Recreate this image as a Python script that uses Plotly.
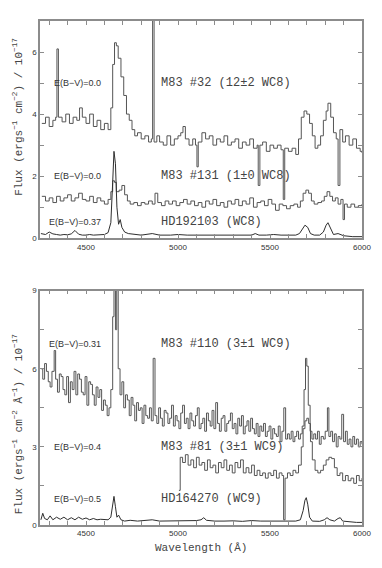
import plotly.graph_objects as go
from plotly.subplots import make_subplots

#--------------------- Data (flux in 1e-17 units, wavelength in Angstrom)
# top panel: WC8 stars
wl_32 = [4260, 4280, 4300, 4320, 4335, 4342, 4350, 4370, 4390, 4410, 4430, 4450, 4465, 4480, 4500,
         4520, 4540, 4560, 4580, 4600, 4620, 4635, 4645, 4655, 4665, 4675, 4690, 4705, 4720, 4735,
         4750, 4765, 4780, 4800, 4820, 4840, 4855, 4862, 4870, 4885, 4900, 4920, 4940, 4960, 4980,
         5000, 5015, 5027, 5040, 5060, 5080, 5095, 5103, 5110, 5130, 5150, 5170, 5190, 5210, 5230,
         5250, 5270, 5290, 5310, 5330, 5350, 5370, 5390, 5410, 5430, 5436, 5445, 5460, 5480, 5500,
         5520, 5540, 5560, 5572, 5580, 5600, 5620, 5640, 5655, 5670, 5685, 5700, 5715, 5730, 5745,
         5760, 5775, 5790, 5805, 5815, 5830, 5845, 5860, 5870, 5880, 5895, 5910, 5930, 5950, 5970,
         5990, 6000]
f_32 = [3.7, 3.9, 3.6, 3.8, 3.9, 6.1, 3.9, 3.75, 4.0, 3.7, 3.9, 3.8, 4.2, 3.9, 3.7,
        4.0, 3.6, 3.8, 3.5, 3.7, 3.5, 4.2, 5.6, 6.3, 6.2, 5.8, 5.2, 4.6, 4.0, 3.8,
        3.5, 3.3, 3.4, 3.2, 3.3, 3.1, 3.2, 9.5, 3.1, 3.3, 3.1, 3.0, 3.3, 3.0, 3.2,
        3.3, 3.4, 3.6, 3.2, 3.0, 3.2, 3.0, 2.3, 3.1, 3.4, 3.2, 3.3, 3.0, 3.2, 3.1,
        3.3, 3.0, 3.1, 3.2, 2.9, 3.1, 3.0, 3.2, 2.9, 3.0, 1.7, 3.0, 3.1, 2.8, 3.0,
        2.9, 3.0, 2.85, 1.25, 2.9, 2.8, 2.9, 2.7, 3.2, 3.9, 4.1, 4.0, 3.7, 3.3, 2.9,
        3.0, 3.3, 3.8, 4.1, 4.35, 3.9, 3.4, 3.2, 1.7, 3.5, 3.1, 3.3, 3.0, 3.2, 2.9,
        2.8, 2.75]

wl_131 = [4260, 4280, 4300, 4320, 4340, 4360, 4380, 4400, 4420, 4440, 4460, 4480, 4500, 4520, 4540,
          4560, 4580, 4600, 4620, 4635, 4645, 4655, 4665, 4680, 4695, 4710, 4725, 4740, 4760, 4780,
          4800, 4820, 4840, 4860, 4875, 4890, 4910, 4930, 4950, 4970, 4990, 5010, 5030, 5050, 5070,
          5090, 5110, 5130, 5150, 5170, 5190, 5210, 5230, 5250, 5270, 5290, 5310, 5330, 5350, 5370,
          5390, 5410, 5430, 5450, 5470, 5490, 5510, 5530, 5550, 5570, 5590, 5610, 5630, 5650, 5665,
          5680, 5695, 5710, 5725, 5740, 5760, 5780, 5795, 5810, 5825, 5840, 5855, 5870, 5885, 5897,
          5905, 5920, 5940, 5960, 5980, 6000]
f_131 = [1.35, 1.2, 1.3, 1.15, 1.35, 1.2, 1.3, 1.4, 1.2, 1.3, 1.45, 1.25, 1.2, 1.35, 1.15,
         1.3, 1.2, 1.1, 1.25, 1.5, 1.85, 1.8, 1.5, 1.55, 1.7, 1.4, 1.2, 1.1, 1.15, 1.05,
         1.15, 1.1, 1.2, 1.1, 1.45, 1.15, 1.05, 1.2, 1.1, 1.2, 1.05, 1.15, 1.25, 1.1, 1.2,
         1.05, 1.15, 1.0, 1.2, 1.1, 1.25, 1.05, 1.15, 1.0, 1.2, 1.1, 1.25, 1.05, 1.2, 1.1,
         1.3, 1.0, 1.15, 1.2, 1.05, 1.25, 1.1, 0.9, 1.1, 1.05, 0.95, 1.05, 1.1, 1.0, 1.2,
         1.45, 1.55, 1.45, 1.2, 1.1, 1.15, 1.2, 1.35, 1.5, 1.35, 1.2, 1.3, 1.1, 1.25, 0.6,
         1.1, 1.0, 1.1, 1.0, 1.05, 1.1]

wl_hd192 = [4255, 4280, 4300, 4320, 4340, 4360, 4380, 4400, 4420, 4440, 4460, 4480, 4500, 4520, 4540,
            4560, 4580, 4600, 4620, 4635, 4645, 4652, 4660, 4668, 4677, 4686, 4695, 4710, 4730, 4760,
            4800, 4860, 4900, 4960, 5000, 5050, 5100, 5150, 5200, 5250, 5300, 5350, 5400, 5420, 5440,
            5480, 5520, 5560, 5600, 5640, 5660, 5675, 5690, 5705, 5720, 5740, 5770, 5790, 5805, 5815,
            5830, 5845, 5870, 5885, 5900, 5950, 6000]
f_hd192 = [0.15, 0.12, 0.2, 0.14, 0.12, 0.1, 0.12, 0.11, 0.14, 0.25, 0.13, 0.1, 0.1, 0.12, 0.1,
           0.1, 0.11, 0.12, 0.18, 0.5, 1.8, 2.8, 2.4, 1.0, 0.45, 0.6, 0.35, 0.2, 0.15, 0.12,
           0.1, 0.15, 0.1, 0.1, 0.12, 0.1, 0.1, 0.1, 0.12, 0.1, 0.1, 0.12, 0.1, 0.15, 0.1,
           0.1, 0.12, 0.1, 0.1, 0.1, 0.15, 0.3, 0.42, 0.35, 0.15, 0.1, 0.1, 0.2, 0.42, 0.5,
           0.3, 0.12, 0.15, 0.12, 0.08, 0.05, 0.05]

# bottom panel: WC9 stars
wl_110 = [4255, 4265, 4275, 4285, 4295, 4305, 4315, 4327, 4335, 4345, 4355, 4365, 4375, 4385, 4395,
          4405, 4415, 4425, 4435, 4445, 4455, 4465, 4475, 4485, 4495, 4505, 4515, 4525, 4535, 4545,
          4555, 4565, 4575, 4585, 4595, 4605, 4615, 4625, 4635, 4645, 4652, 4660, 4667, 4675, 4685,
          4695, 4705, 4715, 4725, 4735, 4745, 4755, 4765, 4775, 4785, 4795, 4805, 4815, 4825, 4835,
          4845, 4855, 4865, 4875, 4885, 4895, 4905, 4915, 4925, 4935, 4945, 4955, 4965, 4975, 4985,
          4995, 5005, 5015, 5025, 5035, 5045, 5055, 5065, 5075, 5085, 5095, 5105, 5115, 5125, 5135,
          5145, 5155, 5165, 5175, 5185, 5195, 5205, 5215, 5225, 5235, 5245, 5255, 5265, 5275, 5285,
          5295, 5305, 5315, 5325, 5335, 5345, 5355, 5365, 5375, 5385, 5395, 5405, 5415, 5425, 5435,
          5445, 5455, 5465, 5475, 5485, 5495, 5505, 5515, 5525, 5535, 5545, 5555, 5565, 5575, 5585,
          5595, 5605, 5615, 5625, 5635, 5645, 5655, 5665, 5675, 5685, 5693, 5700, 5708, 5718, 5728,
          5738, 5748, 5758, 5768, 5778, 5790, 5800, 5812, 5820, 5830, 5840, 5850, 5860, 5870, 5880,
          5890, 5900, 5910, 5920, 5930, 5940, 5950, 5960, 5970, 5980, 5990, 6000]
f_110 = [6.0, 5.6, 6.2, 5.9, 5.5, 5.3, 5.9, 6.7, 5.6, 5.1, 5.8, 5.7, 5.2, 5.0, 5.7,
         4.7, 5.5, 5.2, 5.9, 5.0, 5.8, 5.6, 5.1, 5.0, 5.7, 4.6, 5.5, 5.4, 5.0, 4.6,
         5.3, 4.9, 5.2, 4.4, 4.8, 4.6, 4.2, 4.5, 5.2, 8.0, 9.5, 7.5, 9.5, 6.0, 5.0,
         5.5, 4.5, 5.0, 4.8, 4.2, 4.9, 4.6, 4.0, 4.7, 4.4, 4.5, 3.9, 4.6, 4.2, 4.1,
         4.5, 4.0, 6.4, 4.2, 3.9, 4.5, 4.1, 3.8, 4.4, 4.3, 3.9, 4.1, 4.6, 3.8, 4.2,
         4.0, 3.7, 4.3, 4.6, 3.9, 4.1, 3.7, 4.3, 4.0, 3.8, 4.2, 4.5, 3.7, 3.9, 4.1,
         3.6, 4.3, 4.0, 3.8, 4.4, 3.7, 4.7, 3.9, 3.6, 4.1, 4.2, 3.6, 3.9, 4.0, 4.3,
         3.7, 3.9, 3.5, 4.1, 3.8, 4.2, 3.5, 3.8, 4.0, 3.6, 4.1, 3.7, 3.5, 3.9, 3.4,
         3.8, 3.6, 3.9, 3.4, 3.6, 3.8, 3.3, 3.7, 3.5, 3.4, 3.8, 3.2, 3.6, 4.5, 3.3,
         3.5, 3.3, 3.6, 3.2, 3.4, 3.6, 3.3, 3.5, 3.8, 5.2, 6.4, 6.1, 4.6, 3.6, 3.3,
         3.5, 3.3, 3.6, 3.1, 3.4, 3.3, 3.6, 4.5, 3.4, 3.6, 3.2, 3.5, 3.0, 3.4, 3.3,
         4.25, 3.2, 3.6, 3.1, 3.3, 3.0, 3.4, 3.1, 3.3, 3.0, 3.2, 3.1]

wl_81 = [5005, 5012, 5025, 5040, 5055, 5070, 5085, 5100, 5115, 5130, 5145, 5160, 5175, 5190, 5205,
         5220, 5235, 5250, 5265, 5280, 5295, 5310, 5325, 5340, 5355, 5370, 5385, 5400, 5415, 5430,
         5445, 5460, 5475, 5490, 5505, 5520, 5535, 5550, 5565, 5574, 5582, 5595, 5610, 5625, 5640,
         5655, 5670, 5680, 5690, 5700, 5710, 5720, 5730, 5745, 5760, 5775, 5790, 5805, 5820, 5835,
         5850, 5865, 5880, 5895, 5910, 5925, 5940, 5955, 5970, 5985, 6000]
f_81 = [1.33, 2.6, 2.4, 2.7, 2.3, 2.5, 2.2, 2.6, 2.3, 2.4, 2.1, 2.5, 2.2, 2.3, 2.0,
        2.4, 2.2, 2.5, 2.1, 2.3, 2.0, 2.4, 2.2, 2.5, 2.0, 2.2, 2.0, 2.3, 1.9, 2.1,
        1.9, 2.0, 1.8, 2.0, 1.9, 2.1, 1.8, 2.0, 1.9, 0.2, 1.8, 2.0, 1.9, 2.1, 2.0,
        2.3, 3.0, 3.7, 4.0, 4.1, 3.9, 3.2, 2.5, 2.1, 2.0, 2.1, 2.3, 2.5, 2.6, 2.55,
        2.2, 1.9, 2.0, 1.7, 1.9, 1.7, 1.8, 1.6, 1.9, 1.7, 1.8]

wl_hd164 = [4255, 4265, 4275, 4290, 4305, 4320, 4340, 4360, 4380, 4400, 4420, 4440, 4460, 4480, 4500,
            4520, 4540, 4560, 4580, 4600, 4620, 4635, 4645, 4652, 4660, 4668, 4677, 4690, 4710, 4740,
            4780, 4820, 4860, 4900, 4950, 5000, 5050, 5100, 5125, 5140, 5155, 5200, 5250, 5300, 5350,
            5400, 5450, 5500, 5550, 5600, 5640, 5665, 5680, 5690, 5697, 5705, 5715, 5730, 5770, 5795,
            5810, 5825, 5850, 5870, 5882, 5895, 5930, 5970, 6000]
f_hd164 = [0.2, 0.45, 0.25, 0.2, 0.35, 0.2, 0.3, 0.22, 0.3, 0.2, 0.28, 0.2, 0.3, 0.22, 0.27,
           0.2, 0.25, 0.2, 0.22, 0.2, 0.2, 0.3, 0.8, 1.1, 0.7, 0.3, 0.38, 0.2, 0.15, 0.18,
           0.15, 0.18, 0.2, 0.15, 0.15, 0.17, 0.15, 0.17, 0.2, 0.28, 0.18, 0.15, 0.15, 0.16, 0.14,
           0.17, 0.15, 0.15, 0.14, 0.15, 0.15, 0.2, 0.55, 0.95, 1.05, 0.8, 0.3, 0.15, 0.14, 0.2,
           0.28, 0.2, 0.15, 0.25, 0.28, 0.15, 0.12, 0.1, 0.1]

# tick positions / labels
x_ticks = [4300, 4400, 4500, 4600, 4700, 4800, 4900, 5000, 5100, 5200, 5300, 5400, 5500, 5600,
           5700, 5800, 5900, 6000]
x_labels = ['', '', '4500', '', '', '', '', '5000', '', '', '', '', '5500', '', '', '', '', '6000']
y1_ticks = [0, 1, 2, 3, 4, 5, 6, 7]
y1_labels = ['0', '', '2', '', '4', '', '6', '']
y2_ticks = [0, 1.5, 3, 4.5, 6, 7.5, 9]
y2_labels = ['0', '', '3', '', '6', '', '9']

#--------------------- Figure
fig = make_subplots(rows=2, cols=1)

noisy = dict(color='#555555', width=1, shape='hv')
smooth = dict(color='#2e2e2e', width=1)

fig.add_trace(go.Scatter(x=wl_32, y=f_32, mode='lines', line=noisy), row=1, col=1)
fig.add_trace(go.Scatter(x=wl_131, y=f_131, mode='lines', line=noisy), row=1, col=1)
fig.add_trace(go.Scatter(x=wl_hd192, y=f_hd192, mode='lines', line=smooth), row=1, col=1)
fig.add_trace(go.Scatter(x=wl_110, y=f_110, mode='lines', line=noisy), row=2, col=1)
fig.add_trace(go.Scatter(x=wl_81, y=f_81, mode='lines', line=noisy), row=2, col=1)
fig.add_trace(go.Scatter(x=wl_hd164, y=f_hd164, mode='lines', line=smooth), row=2, col=1)

frame = '#8c8c8c'
axis_common = dict(showline=True, linecolor=frame, linewidth=1.5, mirror='allticks',
                   ticks='inside', ticklen=4, tickcolor=frame, tickwidth=1,
                   showgrid=False, zeroline=False,
                   tickfont=dict(family='Liberation Sans', size=8, color='#333333'))

fig.update_xaxes(range=[4250, 6000], tickvals=x_ticks, ticktext=x_labels, **axis_common)
fig.update_yaxes(range=[0, 7], tickvals=y1_ticks, ticktext=y1_labels, row=1, col=1, **axis_common)
fig.update_yaxes(range=[0, 9], tickvals=y2_ticks, ticktext=y2_labels, row=2, col=1, **axis_common)

fig.update_layout(
    xaxis=dict(domain=[0, 1]), yaxis=dict(domain=[0.569, 1.0]),
    xaxis2=dict(domain=[0, 1]), yaxis2=dict(domain=[0.0, 0.465]),
)

small = dict(family='Liberation Sans', size=9, color='#333333')
big = dict(family='Liberation Mono', size=12, color='#444444')

labels_top = [('E(B\u2212V)=0.0', 'M83 #32 (12\u00b12 WC8)', 5.0),
              ('E(B\u2212V)=0.0', 'M83 #131 (1\u00b10 WC8)', 2.02),
              ('E(B\u2212V)=0.37', 'HD192103 (WC8)', 0.51)]
labels_bot = [('E(B\u2212V)=0.31', 'M83 #110 (3\u00b11 WC9)', 6.96),
              ('E(B\u2212V)=0.4', 'M83 #81 (3\u00b11 WC9)', 3.0),
              ('E(B\u2212V)=0.5', 'HD164270 (WC9)', 0.99)]

for (ebv, name, yv), (xr, yr) in [(l, ('x', 'y')) for l in labels_top] + [(l, ('x2', 'y2')) for l in labels_bot]:
    fig.add_annotation(x=4590, y=yv, xref=xr, yref=yr, text=ebv, showarrow=False,
                       xanchor='right', yanchor='middle', font=small)
    fig.add_annotation(x=4895, y=yv, xref=xr, yref=yr, text=name, showarrow=False,
                       xanchor='left', yanchor='middle', font=big)

title_font = dict(family='Liberation Mono', size=11, color='#444444')
fig.add_annotation(x=-0.068, y=0.81, xref='paper', yref='paper', textangle=-90, showarrow=False,
                   text='Flux (ergs<sup>\u22121</sup> cm<sup>\u22122</sup>) / 10<sup>\u221217</sup>',
                   font=title_font, xanchor='center', yanchor='middle')
fig.add_annotation(x=-0.068, y=0.20, xref='paper', yref='paper', textangle=-90, showarrow=False,
                   text='Flux (ergs<sup>\u22121</sup> cm<sup>\u22122</sup> \u00c5<sup>\u22121</sup>) / 10<sup>\u221217</sup>',
                   font=title_font, xanchor='center', yanchor='middle')
fig.add_annotation(x=0.5, y=-0.045, xref='paper', yref='paper', showarrow=False,
                   text='Wavelength (\u00c5)', font=title_font, xanchor='center', yanchor='middle')

# the page body adds an 8 px offset, so the figure is 8 px smaller and margins shifted
fig.update_layout(width=374, height=560, showlegend=False,
                  margin=dict(l=32, r=20, t=9, b=43),
                  plot_bgcolor='white', paper_bgcolor='white')

fig.write_html("out.html")
